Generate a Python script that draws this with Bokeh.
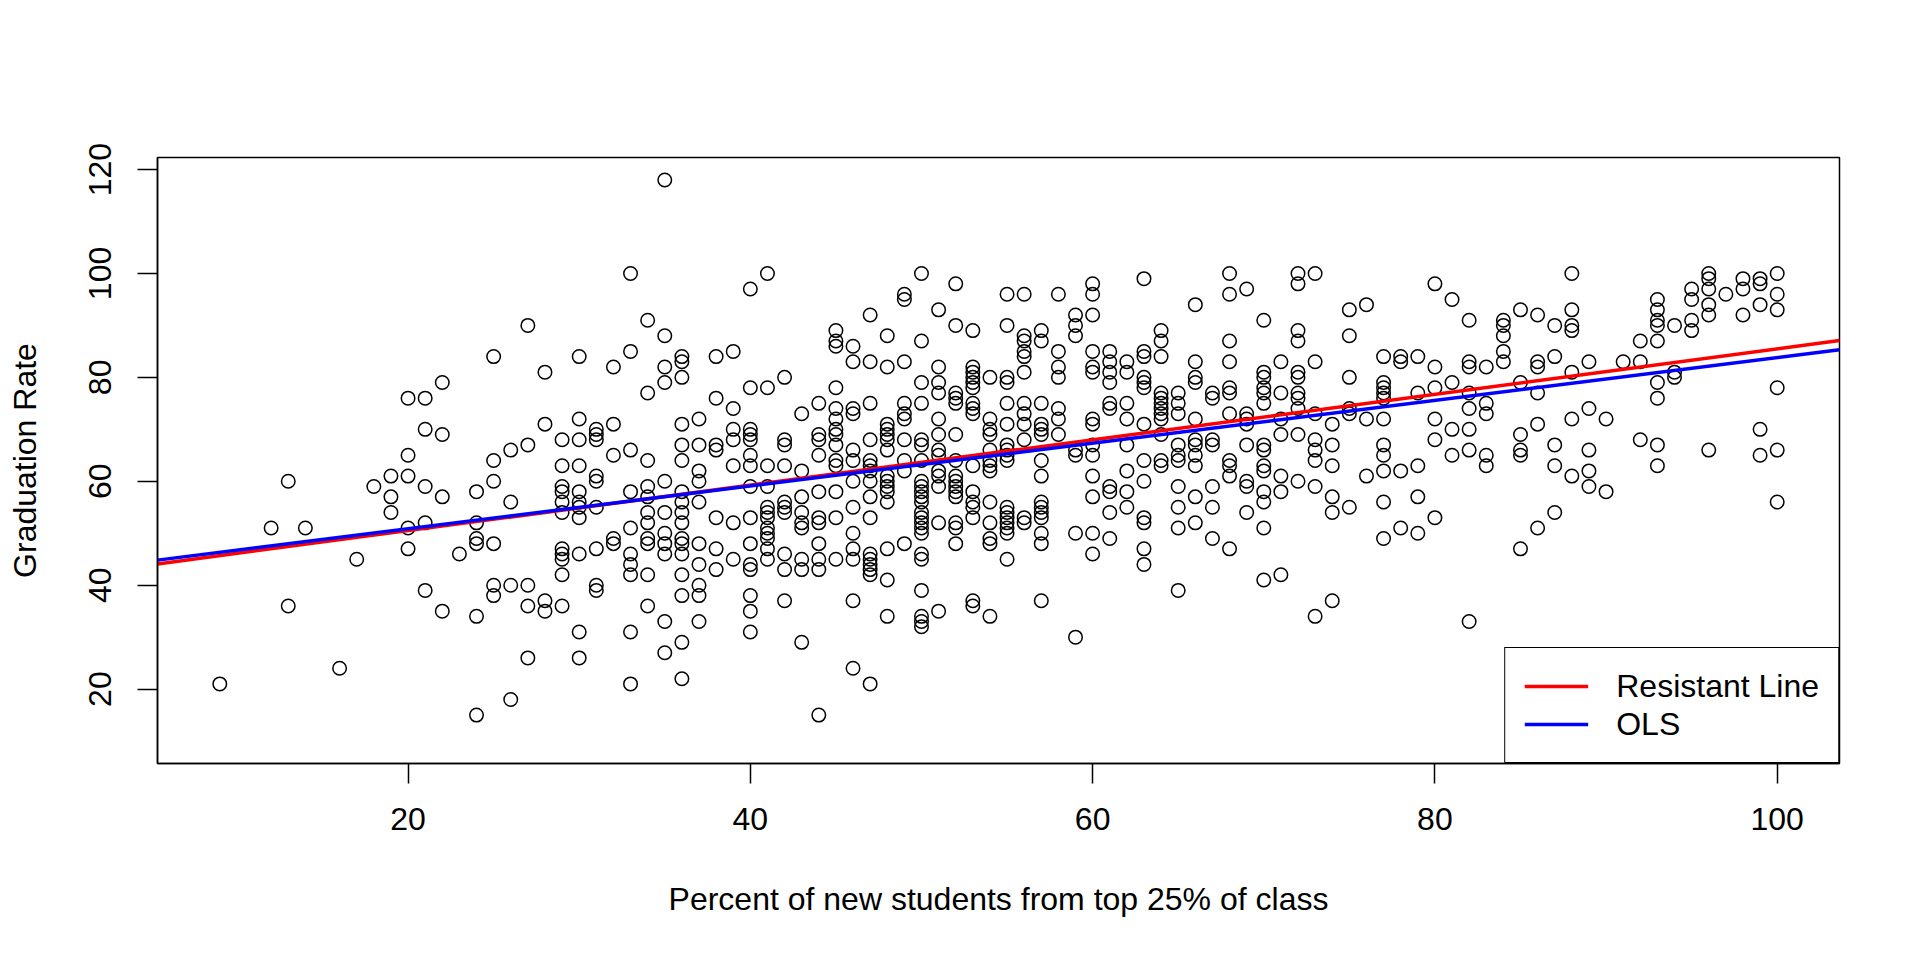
from bokeh.plotting import figure
from bokeh.models import Range1d, FixedTicker, Legend, LegendItem
from bokeh.embed import file_html
from bokeh.resources import INLINE

# Percent of new students from top 25% of class (one line per x value)
top25_perc = [
    9,
    12,
    13, 13,
    14,
    16,
    17,
    18,
    19, 19, 19,
    20, 20, 20, 20, 20,
    21, 21, 21, 21, 21,
    22, 22, 22, 22,
    23,
    24, 24, 24, 24, 24, 24,
    25, 25, 25, 25, 25, 25,
    26, 26, 26, 26,
    27, 27, 27, 27, 27,
    28, 28, 28, 28,
    29, 29, 29, 29, 29, 29, 29, 29, 29, 29, 29,
    30, 30, 30, 30, 30, 30, 30, 30, 30, 30, 30,
    31, 31, 31, 31, 31, 31, 31, 31, 31,
    32, 32, 32, 32, 32,
    33, 33, 33, 33, 33, 33, 33, 33, 33, 33,
    34, 34, 34, 34, 34, 34, 34, 34, 34, 34, 34,
    35, 35, 35, 35, 35, 35, 35, 35, 35, 35, 35,
    36, 36, 36, 36, 36, 36, 36, 36, 36, 36, 36, 36, 36, 36, 36, 36, 36,
    37, 37, 37, 37, 37, 37, 37, 37, 37, 37,
    38, 38, 38, 38, 38, 38, 38,
    39, 39, 39, 39, 39, 39, 39,
    40, 40, 40, 40, 40, 40, 40, 40, 40, 40, 40, 40, 40, 40, 40,
    41, 41, 41, 41, 41, 41, 41, 41, 41, 41, 41, 41,
    42, 42, 42, 42, 42, 42, 42, 42, 42, 42,
    43, 43, 43, 43, 43, 43, 43, 43, 43,
    44, 44, 44, 44, 44, 44, 44, 44, 44, 44, 44,
    45, 45, 45, 45, 45, 45, 45, 45, 45, 45, 45, 45, 45, 45,
    46, 46, 46, 46, 46, 46, 46, 46, 46, 46, 46, 46, 46,
    47, 47, 47, 47, 47, 47, 47, 47, 47, 47, 47, 47, 47, 47, 47, 47,
    48, 48, 48, 48, 48, 48, 48, 48, 48, 48, 48, 48, 48, 48, 48,
    49, 49, 49, 49, 49, 49, 49, 49, 49, 49,
    50, 50, 50, 50, 50, 50, 50, 50, 50, 50, 50, 50, 50, 50, 50, 50, 50, 50, 50, 50, 50, 50, 50,
    51, 51, 51, 51, 51, 51, 51, 51, 51, 51, 51, 51, 51,
    52, 52, 52, 52, 52, 52, 52, 52, 52, 52, 52, 52, 52, 52, 52,
    53, 53, 53, 53, 53, 53, 53, 53, 53, 53, 53, 53, 53, 53, 53, 53,
    54, 54, 54, 54, 54, 54, 54, 54, 54, 54, 54, 54, 54,
    55, 55, 55, 55, 55, 55, 55, 55, 55, 55, 55, 55, 55, 55, 55, 55, 55,
    56, 56, 56, 56, 56, 56, 56, 56, 56, 56, 56, 56,
    57, 57, 57, 57, 57, 57, 57, 57, 57, 57, 57, 57, 57, 57, 57,
    58, 58, 58, 58, 58, 58, 58,
    59, 59, 59, 59, 59, 59, 59,
    60, 60, 60, 60, 60, 60, 60, 60, 60, 60, 60, 60, 60, 60,
    61, 61, 61, 61, 61, 61, 61, 61, 61, 61,
    62, 62, 62, 62, 62, 62, 62, 62,
    63, 63, 63, 63, 63, 63, 63, 63, 63, 63, 63, 63, 63,
    64, 64, 64, 64, 64, 64, 64, 64, 64, 64, 64, 64,
    65, 65, 65, 65, 65, 65, 65, 65, 65, 65,
    66, 66, 66, 66, 66, 66, 66, 66, 66, 66, 66,
    67, 67, 67, 67, 67, 67, 67,
    68, 68, 68, 68, 68, 68, 68, 68, 68, 68, 68,
    69, 69, 69, 69, 69, 69, 69, 69,
    70, 70, 70, 70, 70, 70, 70, 70, 70, 70, 70, 70, 70, 70,
    71, 71, 71, 71, 71, 71, 71,
    72, 72, 72, 72, 72, 72, 72, 72, 72, 72, 72,
    73, 73, 73, 73, 73, 73, 73, 73,
    74, 74, 74, 74, 74, 74,
    75, 75, 75, 75, 75, 75,
    76, 76, 76,
    77, 77, 77, 77, 77, 77, 77, 77, 77, 77, 77,
    78, 78, 78, 78,
    79, 79, 79, 79, 79,
    80, 80, 80, 80, 80, 80,
    81, 81, 81, 81,
    82, 82, 82, 82, 82, 82, 82, 82,
    83, 83, 83, 83, 83,
    84, 84, 84, 84, 84,
    85, 85, 85, 85, 85, 85,
    86, 86, 86, 86, 86, 86,
    87, 87, 87, 87, 87,
    88, 88, 88, 88, 88, 88, 88,
    89, 89, 89, 89, 89,
    90, 90,
    91,
    92, 92, 92,
    93, 93, 93, 93, 93, 93, 93, 93, 93,
    94, 94, 94,
    95, 95, 95, 95,
    96, 96, 96, 96, 96, 96,
    97,
    98, 98, 98,
    99, 99, 99, 99, 99,
    100, 100, 100, 100, 100, 100,
]

# Graduation rate (same order as above)
grad_rate = [
    21,
    51,
    60, 36,
    51,
    24,
    45,
    59,
    61, 57, 54,
    76, 65, 61, 51, 47,
    76, 70, 59, 52, 39,
    79, 69, 57, 35,
    46,
    58, 52, 49, 48, 34, 15,
    84, 64, 60, 48, 40, 38,
    66, 56, 40, 18,
    90, 67, 40, 36, 26,
    81, 71, 37, 35,
    68, 63, 59, 58, 56, 54, 47, 46, 45, 42, 36,
    84, 72, 68, 63, 58, 56, 55, 53, 46, 31, 26,
    70, 69, 68, 61, 60, 55, 47, 40, 39,
    82, 71, 65, 49, 48,
    100, 85, 66, 58, 51, 46, 44, 42, 31, 21,
    91, 77, 64, 59, 57, 54, 52, 49, 48, 42, 36,
    118, 88, 82, 79, 60, 54, 50, 48, 46, 33, 27,
    84, 83, 80, 71, 67, 64, 58, 56, 54, 52, 49, 48, 46, 42, 38, 29, 22,
    72, 67, 62, 60, 56, 48, 44, 40, 38, 33,
    84, 76, 67, 66, 53, 47, 43,
    85, 74, 70, 68, 63, 52, 45,
    97, 78, 70, 69, 68, 65, 63, 59, 53, 48, 44, 43, 38, 35, 31,
    100, 78, 63, 59, 55, 54, 53, 51, 50, 49, 47, 45,
    80, 68, 67, 63, 56, 55, 54, 46, 43, 37,
    73, 62, 57, 54, 52, 51, 45, 43, 29,
    75, 69, 68, 65, 58, 53, 52, 48, 45, 43, 15,
    89, 87, 86, 78, 74, 72, 70, 69, 67, 64, 63, 58, 53, 45,
    86, 83, 74, 73, 66, 64, 60, 55, 50, 47, 45, 37, 24,
    92, 83, 75, 68, 64, 63, 62, 60, 57, 53, 46, 45, 44, 43, 42, 21,
    88, 82, 71, 70, 69, 68, 66, 61, 60, 59, 58, 56, 47, 41, 34,
    96, 95, 83, 75, 73, 72, 68, 64, 62, 48,
    100, 87, 79, 75, 68, 67, 64, 60, 59, 58, 57, 56, 54, 53, 52, 51, 50, 46, 45, 39, 34, 33, 32,
    93, 82, 79, 77, 72, 69, 66, 65, 62, 61, 59, 52, 35,
    98, 90, 77, 76, 75, 69, 64, 61, 60, 59, 58, 57, 52, 51, 48,
    89, 82, 81, 80, 79, 78, 75, 74, 73, 63, 58, 56, 55, 53, 37, 36,
    80, 72, 70, 69, 66, 64, 63, 62, 56, 52, 49, 48, 34,
    96, 90, 80, 79, 75, 71, 67, 66, 65, 64, 55, 54, 53, 52, 51, 50, 45,
    96, 88, 87, 85, 84, 81, 75, 73, 71, 68, 53, 52,
    89, 87, 75, 71, 70, 69, 64, 61, 56, 55, 54, 53, 50, 48, 37,
    96, 85, 82, 80, 74, 72, 69,
    92, 90, 88, 66, 65, 50, 30,
    98, 96, 92, 85, 82, 81, 72, 71, 67, 65, 61, 57, 50, 46,
    85, 83, 81, 79, 75, 74, 59, 58, 54, 49,
    83, 81, 75, 72, 67, 62, 58, 55,
    99, 85, 84, 80, 79, 78, 71, 64, 60, 53, 52, 47, 44,
    89, 87, 84, 77, 76, 75, 74, 73, 72, 69, 64, 63,
    77, 75, 73, 67, 65, 64, 59, 55, 51, 39,
    94, 83, 80, 79, 72, 68, 67, 65, 63, 57, 52,
    77, 76, 68, 67, 59, 55, 49,
    100, 96, 87, 83, 78, 77, 73, 64, 63, 61, 47,
    97, 73, 72, 71, 67, 60, 59, 54,
    91, 81, 80, 78, 77, 75, 67, 66, 63, 62, 58, 56, 51, 41,
    83, 77, 72, 69, 61, 58, 42,
    100, 98, 89, 87, 81, 80, 77, 76, 74, 69, 60,
    100, 83, 73, 68, 66, 64, 59, 34,
    71, 67, 63, 57, 54, 37,
    93, 88, 80, 74, 73, 55,
    94, 72, 61,
    84, 79, 78, 77, 76, 72, 67, 65, 62, 56, 49,
    84, 83, 62, 51,
    84, 77, 63, 57, 50,
    98, 82, 78, 72, 68, 53,
    95, 79, 70, 65,
    91, 83, 82, 77, 74, 70, 66, 33,
    82, 75, 73, 65, 63,
    91, 90, 88, 85, 83,
    93, 79, 69, 66, 65, 47,
    92, 83, 82, 77, 71, 51,
    90, 84, 67, 63, 54,
    100, 93, 90, 89, 81, 72, 61,
    83, 74, 66, 62, 59,
    72, 58,
    83,
    87, 83, 68,
    95, 93, 91, 90, 87, 79, 76, 67, 63,
    90, 81, 80,
    97, 95, 91, 89,
    100, 99, 97, 94, 92, 66,
    96,
    99, 97, 92,
    99, 98, 94, 70, 65,
    100, 96, 93, 78, 66, 56,
]

# Fitted lines (intercept, slope)
resistant_intercept, resistant_slope = 41.75, 0.4375
ols_intercept, ols_slope = 42.62, 0.4118

# Axis limits
x_lo, x_hi = 5.36, 103.64
y_lo, y_hi = 5.68, 122.32

x_ticks = [20, 40, 60, 80, 100]
y_ticks = [20, 40, 60, 80, 100, 120]

x_title = "Percent of new students from top 25% of class"
y_title = "Graduation Rate"
legend_labels = ["Resistant Line", "OLS"]

FONT = "Liberation Sans"
FS = "32px"

n = min(len(top25_perc), len(grad_rate))

p = figure(
    frame_width=1682, frame_height=606,
    min_border_left=157, min_border_top=157,
    min_border_right=75, min_border_bottom=190,
    x_range=Range1d(x_lo, x_hi), y_range=Range1d(y_lo, y_hi),
    output_backend="svg", toolbar_location=None,
    background_fill_color="white", border_fill_color="white",
)
p.grid.visible = False
p.outline_line_color = "black"
p.outline_line_width = 1.5
p.outline_line_alpha = 1.0

p.scatter(top25_perc[:n], grad_rate[:n], marker="circle", size=13.5,
          fill_color=None, line_color="black", line_width=1.5)

line_x = [x_lo, x_hi]
r_red = p.line(x=line_x,
               y=[resistant_intercept + resistant_slope * v for v in line_x],
               line_color="red", line_width=3.5)
r_blue = p.line(x=line_x,
                y=[ols_intercept + ols_slope * v for v in line_x],
                line_color="blue", line_width=3.5)

for ax in (p.xaxis[0], p.yaxis[0]):
    ax.major_tick_out = 20
    ax.major_tick_in = 0
    ax.minor_tick_out = 0
    ax.minor_tick_in = 0
    ax.major_tick_line_width = 1.5
    ax.axis_line_width = 1.5
    ax.major_label_text_font = FONT
    ax.major_label_text_font_size = FS
    ax.major_label_text_color = "black"
    ax.axis_label_text_font = FONT
    ax.axis_label_text_font_size = FS
    ax.axis_label_text_font_style = "normal"
    ax.axis_label_text_color = "black"

p.xaxis[0].ticker = FixedTicker(ticks=x_ticks)
p.yaxis[0].ticker = FixedTicker(ticks=y_ticks)
p.xaxis[0].axis_label = x_title
p.yaxis[0].axis_label = y_title
p.xaxis[0].major_label_standoff = 24
p.xaxis[0].axis_label_standoff = 48
p.yaxis[0].major_label_orientation = "vertical"
p.yaxis[0].major_label_standoff = 26
p.yaxis[0].axis_label_standoff = 44

legend = Legend(
    items=[LegendItem(label=legend_labels[0], renderers=[r_red]),
           LegendItem(label=legend_labels[1], renderers=[r_blue])],
    location="bottom_right", margin=0, padding=19, spacing=0,
    glyph_width=64, glyph_height=38, label_height=38, label_standoff=28,
    label_text_font=FONT, label_text_font_size=FS, label_text_color="black",
    border_line_color="black", border_line_width=1.5, border_line_alpha=1.0,
    background_fill_color="white", background_fill_alpha=1.0,
)
p.add_layout(legend)

open("out.html", "w").write(file_html(p, INLINE))
